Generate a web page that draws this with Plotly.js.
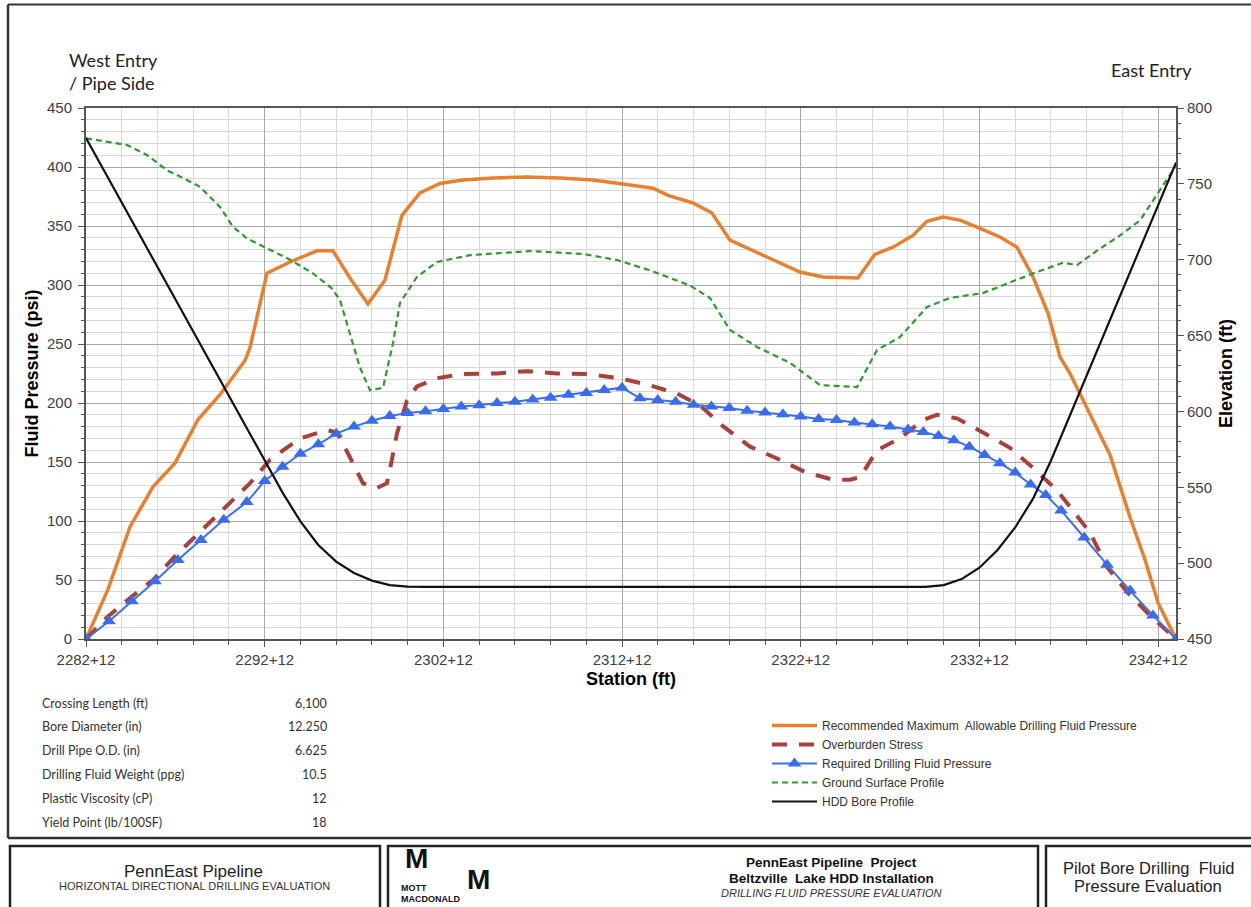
<!DOCTYPE html>
<html><head><meta charset="utf-8">
<script src="https://cdn.plot.ly/plotly-3.0.1.min.js"></script>
<style>html,body{margin:0;padding:0;background:#fff;}#chart{width:1251px;height:907px;}</style>
</head><body><div id="chart"></div>
<script>
// ---- axis ticks ----
const stationTickVals = [0,1000,2000,3000,4000,5000,6000];
const stationTickText = ["2282+12","2292+12","2302+12","2312+12","2322+12","2332+12","2342+12"];

// ---- Recommended Maximum Allowable Drilling Fluid Pressure (psi) ----
const allowDist = [0,123,246,375,498,627,750,890,918,1013,1142,1293,1382,1477,1578,1673,1768,1869,1981,2110,2278,2468,2653,2837,3005,3173,3257,3397,3503,3604,3811,3996,4124,4320,4415,4516,4628,4706,4796,4891,5003,5115,5210,5300,5384,5451,5507,5563,5635,5731,5843,5927,6000,6100];
const allowPsi  = [0,42,95,129,149,186,207,236,247,310,319.5,329,329,306,284,304,359,378,386,389,390.7,391.5,390.7,389,385.6,382,376,369.5,361,338,323.7,311,306.8,306,326,332,342,354,357.6,355,348,340.7,332,306.8,276,239,225,208,185,156,103,67,30.5,0];

// ---- Overburden Stress (psi) ----
const overDist = [0,123,257,375,504,638,783,918,1030,1198,1349,1405,1477,1550,1629,1684,1712,1740,1796,1852,1964,2110,2300,2468,2636,2804,2988,3156,3307,3436,3559,3716,3867,4024,4180,4275,4332,4427,4555,4684,4762,4874,5020,5171,5300,5434,5507,5619,5719,5831,5954,6100];
const overPsi  = [0,19,36,50,71,91,113,132,152,170,177,175,154,132,128,132,152,174,202,214,221,224.6,225,227,225,224.6,221,215,208,198,181,163,153,141.5,135,135,137,160,170,185.6,190,187,175,162,145,126,112,90,60,39,20,0];

// ---- Required Drilling Fluid Pressure (psi) ----
const reqDist = [0,129,257,386,514,643,771,900,1000,1100,1200,1300,1400,1500,1600,1700,1800,1900,2000,2100,2200,2300,2400,2500,2600,2700,2800,2900,3000,3100,3200,3300,3400,3500,3600,3700,3800,3900,4000,4100,4200,4300,4400,4500,4600,4686,4771,4857,4943,5029,5114,5200,5286,5371,5457,5586,5714,5843,5971,6100];
const reqPsi  = [0,15,32,49,67,84,101,116,134,146,157,165,174,180,185,189,191.5,193,195,197,198,200,201,203,204.5,207,208.5,211,213,204,202.5,201,198.5,197,195.8,193.5,192,190.5,188.5,186.5,185.5,183.5,182,180,177.5,175.5,172,168.5,163,156,149,141,131,122,109,86,63,41,20,0];

// ---- Ground Surface Profile (elevation, ft) ----
const groundDist = [0,230,341,453,565,638,750,823,901,1069,1142,1270,1377,1421,1477,1533,1589,1662,1718,1757,1852,1964,2149,2485,2781,2972,3156,3380,3492,3604,3755,3940,4108,4315,4427,4555,4706,4835,5020,5171,5300,5468,5546,5658,5787,5899,6100];
const groundElev = [780,775.6,769,759,752.6,748,734.8,721.6,714,704.4,700,691,681,673.5,651.7,629,614,615.5,645,671.5,688.6,698.5,703,705.7,703.8,699.8,693,683,674.8,653.7,642.5,632,617.4,616,640.5,649,668.8,674.8,678,685,691,698,696.5,706,716,726,762];

// ---- HDD Bore Profile (elevation, ft) ----
const boreDist = [0,980,1030,1100,1200,1300,1400,1500,1600,1700,1800,1900,4700,4800,4900,5000,5100,5200,5300,5400,6100];
const boreElev = [780.2,571.7,560.5,546.5,527.5,512,501,493.5,488.5,485.5,484.5,484.3,484.3,485.5,489.5,497,508.5,523.5,542.5,567.5,764];

// ---- design parameters table ----
const paramLabels = ["Crossing Length (ft)","Bore Diameter (in)","Drill Pipe O.D. (in)","Drilling Fluid Weight (ppg)","Plastic Viscosity (cP)","Yield Point (lb/100SF)"];
const paramValues = ["6,100","12.250","6.625","10.5","12","18"];

// ---- series names ----
const seriesNames = ["Recommended Maximum  Allowable Drilling Fluid Pressure","Overburden Stress","Required Drilling Fluid Pressure","Ground Surface Profile","HDD Bore Profile"];

// page-pixel -> paper helpers (layout only)
const PL=86, PR=1176, PT=108, PB=639;
const px = x => (x-PL)/(PR-PL);
const py = y => (PB-y)/(PB-PT);

const traces = [
  {x: allowDist, y: allowPsi, name: seriesNames[0], mode:'lines', line:{color:'#E8812F', width:3.5}},
  {x: overDist, y: overPsi, name: seriesNames[1], mode:'lines', line:{color:'#A8403C', width:4, dash:'15px,12px'}},
  {x: reqDist, y: reqPsi, name: seriesNames[2], mode:'lines+markers', line:{color:'#3F6FE8', width:2}, marker:{symbol:'triangle-up', size:12, color:'#3A6CF0'}},
  {x: groundDist, y: groundElev, name: seriesNames[3], mode:'lines', yaxis:'y2', line:{color:'#2E9A2E', width:2.2, dash:'6px,4px'}},
  {x: boreDist, y: boreElev, name: seriesNames[4], mode:'lines', yaxis:'y2', line:{color:'#111', width:2.2}}
];

const annotations = [];
const tfont = {family:'Lato, Arial', size:12.5, color:'#333'};
paramLabels.forEach((t,i)=>{
  const yy = 703 + i*23.8;
  annotations.push({xref:'paper',yref:'paper',x:px(40),y:py(yy),xanchor:'left',yanchor:'middle',text:t,showarrow:false,font:tfont});
  annotations.push({xref:'paper',yref:'paper',x:px(329),y:py(yy),xanchor:'right',yanchor:'middle',text:paramValues[i],showarrow:false,font:tfont});
});
const A = (x,y,text,font,xa,extra) => annotations.push(Object.assign({xref:'paper',yref:'paper',x:px(x),y:py(y),xanchor:xa||'center',yanchor:'middle',text:text,showarrow:false,font:font},extra||{}));
A(67,72,'West Entry<br>/ Pipe Side',{family:'Lato, Arial',size:18,color:'#222'},'left',{align:'left'});
A(1109,70,'East Entry',{family:'Lato, Arial',size:18,color:'#222'},'left');
A(193,871,'PennEast Pipeline',{family:'Arial',size:17,color:'#222'});
A(194,886,'HORIZONTAL DIRECTIONAL DRILLING EVALUATION',{family:'Arial',size:11,color:'#333'});
A(416,858,'<b>M</b>',{family:'Arial',size:28,color:'#111'});
A(478,879,'<b>M</b>',{family:'Arial',size:28,color:'#111'});
A(399,888,'<b>MOTT</b>',{family:'Arial',size:9,color:'#111'},'left');
A(399,899,'<b>MACDONALD</b>',{family:'Arial',size:9,color:'#111'},'left');
A(831,862,'<b>PennEast Pipeline  Project</b>',{family:'Arial',size:13.5,color:'#111'});
A(831,878,'<b>Beltzville  Lake HDD Installation</b>',{family:'Arial',size:13.5,color:'#111'});
A(831,893,'<i>DRILLING FLUID PRESSURE EVALUATION</i>',{family:'Arial',size:11,color:'#333'});
A(1148,868,'Pilot Bore Drilling  Fluid',{family:'Arial',size:16.5,color:'#222'});
A(1148,886,'Pressure Evaluation',{family:'Arial',size:16.5,color:'#222'});

const rect = (x0,y0,x1,y1,w) => ({type:'rect',xref:'paper',yref:'paper',x0:px(x0),x1:px(x1),y0:py(y0),y1:py(y1),line:{color:'#222',width:w||2},fillcolor:'rgba(0,0,0,0)'});
const line = (x0,y0,x1,y1,w) => ({type:'line',xref:'paper',yref:'paper',x0:px(x0),x1:px(x1),y0:py(y0),y1:py(y1),line:{color:'#333',width:w||2}});
const shapes = [
  line(8,4.5,1251,4.5,2), line(8,4.5,8,838,2.5), line(8,838,1251,838,2.5),
  rect(10,846,380,912,2.5), rect(388,846,1038,912,2.5), rect(1046,846,1256,912,2.5)
];

const tickFont = {family:'Arial, Liberation Sans', size:15, color:'#404040'};
const titleFont = {family:'Arial, Liberation Sans', size:18, color:'#000'};
const layout = {
  width:1251, height:907,
  margin:{l:PL, r:1251-PR, t:PT, b:907-PB},
  paper_bgcolor:'#fff', plot_bgcolor:'#fff',
  showlegend:true,
  legend:{x:px(767), y:py(711), xanchor:'left', yanchor:'top', bgcolor:'rgba(0,0,0,0)', itemwidth:45, tracegroupgap:0,
          font:{family:'Arial, Liberation Sans', size:12, color:'#333'}},
  xaxis:{range:[0,6100], tickmode:'array', tickvals:stationTickVals, ticktext:stationTickText,
         showgrid:true, gridcolor:'#a9a9a9', gridwidth:1, zeroline:false,
         ticks:'outside', ticklen:6, tickcolor:'#555', tickfont:tickFont,
         showline:true, linecolor:'#555', linewidth:2, mirror:true,
         minor:{tickmode:'linear', tick0:0, dtick:200, showgrid:true, gridcolor:'#d9d9d9', ticks:'outside', ticklen:4, tickcolor:'#555'},
         title:{text:'<b>Station (ft)</b>', font:titleFont, standoff:5}},
  yaxis:{range:[0,450], tick0:0, dtick:50, showgrid:true, gridcolor:'#a9a9a9', zeroline:false,
         ticks:'outside', ticklen:6, tickcolor:'#555', tickfont:tickFont, ticklabelstandoff:3,
         showline:true, linecolor:'#555', linewidth:2,
         minor:{tick0:0, dtick:10, showgrid:true, gridcolor:'#d9d9d9', ticks:'outside', ticklen:3, tickcolor:'#555'},
         title:{text:'<b>Fluid Pressure (psi)</b>', font:titleFont, standoff:4}},
  yaxis2:{range:[450,800], tick0:450, dtick:50, overlaying:'y', side:'right', showgrid:false, zeroline:false,
          ticks:'outside', ticklen:6, tickcolor:'#555', tickfont:tickFont,
          showline:true, linecolor:'#555', linewidth:2,
          minor:{tick0:450, dtick:10, ticks:'outside', ticklen:3, tickcolor:'#555', showgrid:false},
          title:{text:'<b>Elevation (ft)</b>', font:titleFont, standoff:8}},
  shapes:shapes, annotations:annotations
};
Plotly.newPlot('chart', traces, layout, {displayModeBar:false, staticPlot:true});
</script></body></html>
